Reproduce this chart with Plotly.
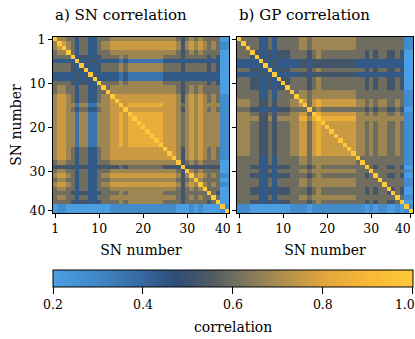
import plotly.graph_objects as go

# SN index labels shown on both axes
sn_index = list(range(40))
tick_pos = [0, 10, 20, 30, 39]
tick_text = ['1', '10', '20', '30', '40']
cbar_ticks = [0.2, 0.4, 0.6, 0.8, 1.0]
cbar_text = ['0.2', '0.4', '0.6', '0.8', '1.0']

# Correlation matrices, lower triangle row by row.
# Each digit d stands for a correlation of 0.2 + 0.08*d, 'X' is the diagonal (1.0).
sn_rows = [
    "X",
    "6X",
    "67X",
    "566X",
    "5555X",
    "33333X",
    "555543X",
    "5555434X",
    "33333433X",
    "333334334X",
    "5555434433X",
    "56655355335X",
    "566553553355X",
    "6776535533566X",
    "67765355335667X",
    "677662662266677X",
    "6776535533566777X",
    "67766266226667787X",
    "677662662266677878X",
    "6776626622666778788X",
    "67766266226667787888X",
    "677662662266677878888X",
    "6776626622666778788888X",
    "67766266226667787888888X",
    "677662662266677878888888X",
    "6776535533566777777777777X",
    "67765355335667777777777777X",
    "677653553356677777777777777X",
    "5665535533555666666666666666X",
    "44444344334444454555555554444X",
    "566553553355566666666666666654X",
    "6776535533566777777777777777646X",
    "56655355335556666666666666665456X",
    "677653553356677777777777777764676X",
    "5665535533555666666666666666545656X",
    "55554344334555565666666665555455555X",
    "566553553355566666666666666654565655X",
    "5555434433455556566666666555545555545X",
    "01100000000001111111111111110001010000X",
    "011000000000011111111111111100010100001X",
]

gp_rows = [
    "X",
    "5X",
    "55X",
    "555X",
    "5554X",
    "33333X",
    "333334X",
    "5554433X",
    "33333443X",
    "555443343X",
    "5554433434X",
    "55544334344X",
    "555553353555X",
    "5555533535555X",
    "66655445455566X",
    "666554454555667X",
    "5554433434445555X",
    "66655445455566775X",
    "666664464666668868X",
    "6665544545556677578X",
    "66655445455566775787X",
    "666554454555667757877X",
    "6665544545556677578777X",
    "66655445455566775787777X",
    "666554454555667757877777X",
    "6665544545556677578777777X",
    "66655445455566775787777777X",
    "555553353555556656666666666X",
    "5555533535555566566666666665X",
    "55544334344455554565555555555X",
    "555553353555556656666666666555X",
    "5554433434445555456555555555545X",
    "55555335355555665666666666655555X",
    "555553353555556656666666666555555X",
    "5554433434445555456555555555545455X",
    "55544334344455554565555555555454554X",
    "555553353555556656666666666555555555X",
    "5554433434445555456555555555545455445X",
    "11100000000011110111111111111010110010X",
    "111000000000111101111111111110101100101X",
]


def to_matrix(rows):
    n = len(rows)
    m = [[1.0] * n for _ in range(n)]
    for i, row in enumerate(rows):
        for j, c in enumerate(row):
            v = 1.0 if c == 'X' else 0.2 + 0.08 * int(c)
            m[i][j] = v
            m[j][i] = v
    return m


sn_corr = to_matrix(sn_rows)
gp_corr = to_matrix(gp_rows)

cscale = [
    [0.0, '#4c9ee2'],
    [0.125, '#4087c7'],
    [0.25, '#35689f'],
    [0.34, '#2d4e76'],
    [0.44, '#505a63'],
    [0.5, '#6e6d60'],
    [0.625, '#a98c4e'],
    [0.75, '#e1a53c'],
    [0.875, '#f8b836'],
    [1.0, '#ffc93a'],
]

W, H = 415, 339
font = 'DejaVu Serif'
# invisible padding nudges the last labels left so they stay inside the page
pad1 = '<span style="color:rgba(0,0,0,0)">0</span>'
pad2 = '<span style="color:rgba(0,0,0,0)">00</span>'

fig = go.Figure()
fig.add_trace(go.Heatmap(z=sn_corr, x=sn_index, y=sn_index, coloraxis='coloraxis',
                         xaxis='x', yaxis='y'))
fig.add_trace(go.Heatmap(z=gp_corr, x=sn_index, y=sn_index, coloraxis='coloraxis',
                         xaxis='x2', yaxis='y2'))

axis_style = dict(
    range=[-0.5, 39.5], tickvals=tick_pos, ticktext=tick_text,
    ticks='outside', ticklen=4, tickwidth=1, tickcolor='black',
    showline=True, mirror=True, linecolor='black', linewidth=1.2,
    showgrid=False, zeroline=False, automargin=False, ticklabeloverflow='allow',
    tickfont=dict(family=font, size=12.5, color='black'),
)

top, bottom = 1 - 37 / H, 1 - 213 / H
fig.update_layout(
    width=W, height=H,
    margin=dict(l=0, r=0, t=0, b=0),
    paper_bgcolor='white', plot_bgcolor='white',
    font=dict(family=font, color='black'),
    showlegend=False,
    xaxis=dict(axis_style, domain=[53 / W, 229 / W], anchor='y',
               ticktext=tick_text[:4] + [tick_text[4] + pad1],
               title=dict(text='SN number', font=dict(family=font, size=14), standoff=10)),
    yaxis=dict(axis_style, domain=[bottom, top], anchor='x', range=[39.5, -0.5],
               title=dict(text='SN number', font=dict(family=font, size=14), standoff=4)),
    xaxis2=dict(axis_style, domain=[237 / W, 413 / W], anchor='y2',
                ticktext=tick_text[:4] + [tick_text[4] + pad2],
                title=dict(text='SN number', font=dict(family=font, size=14), standoff=10)),
    yaxis2=dict(axis_style, domain=[bottom, top], anchor='x2', range=[39.5, -0.5],
                showticklabels=False),
    coloraxis=dict(
        cmin=0.2, cmax=1.0005, colorscale=cscale,
        colorbar=dict(
            orientation='h', x=(53 + 413) / 2 / W, xanchor='center',
            len=360 / W, lenmode='fraction', thickness=17,
            y=1 - 270 / H, yanchor='top', yref='paper', xpad=0, ypad=0,
            outlinecolor='black', outlinewidth=1,
            ticks='outside', ticklen=7, tickcolor='black',
            ticklabeloverflow='allow',
            tickvals=cbar_ticks,
            ticktext=cbar_text[:4] + [cbar_text[4] + pad2],
            tickfont=dict(family=font, size=12.5),
        ),
    ),
    annotations=[
        dict(text='a) SN correlation', x=53 / W, y=1 - 26 / H, xref='paper', yref='paper',
             xanchor='left', yanchor='bottom', showarrow=False,
             font=dict(family=font, size=15)),
        dict(text='b) GP correlation', x=237 / W, y=1 - 26 / H, xref='paper', yref='paper',
             xanchor='left', yanchor='bottom', showarrow=False,
             font=dict(family=font, size=15)),
        dict(text='correlation', x=233 / W, y=1 - 327 / H, xref='paper', yref='paper',
             xanchor='center', yanchor='middle', showarrow=False,
             font=dict(family=font, size=14)),
    ],
)

# the page's default body margin would shift the figure by 8 px
fig.write_html('out.html', config={'displayModeBar': False},
               post_script="document.body.style.margin = '0';")
